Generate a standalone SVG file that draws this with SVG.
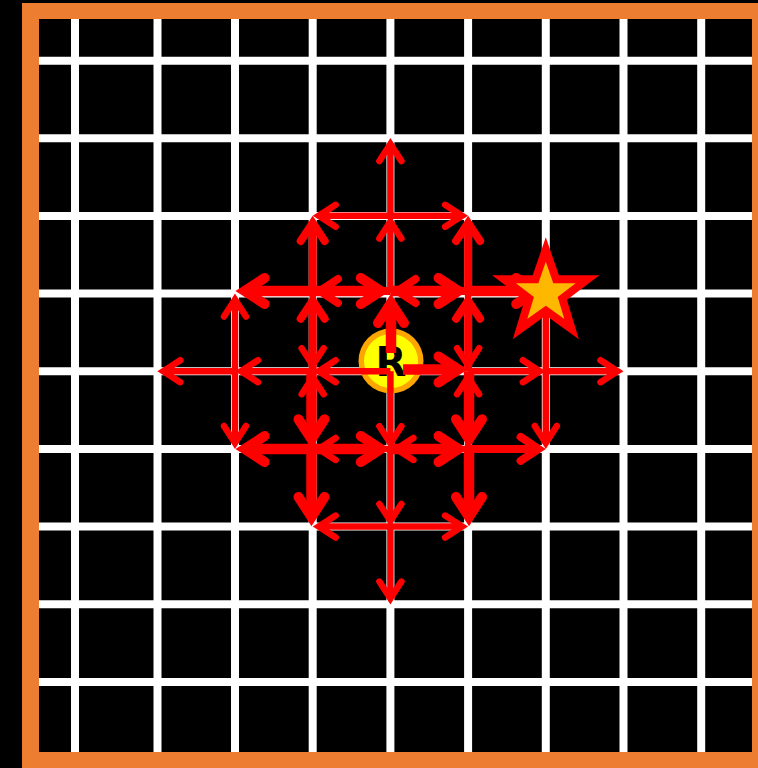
<svg xmlns="http://www.w3.org/2000/svg" width="758" height="768" viewBox="0 0 758 768">
<style>
.grid line{stroke:#fff;stroke-width:8}
.a{fill:none;stroke:#f00;stroke-linecap:butt}
.t{stroke-width:6.5;marker-end:url(#ht)}
.m{stroke-width:8;marker-end:url(#hm)}
.k{stroke-width:10.5;marker-end:url(#hk)}
</style>
<defs>
<marker id="ht" markerUnits="userSpaceOnUse" orient="auto" refX="0" refY="0" markerWidth="60" markerHeight="60" viewBox="-30 -30 60 60" overflow="visible"><path d="M-17-11L0 0L-17 11" fill="none" stroke="#f00" stroke-width="6.5" stroke-linecap="round" stroke-linejoin="miter"/></marker>
<marker id="hm" markerUnits="userSpaceOnUse" orient="auto" refX="0" refY="0" markerWidth="60" markerHeight="60" viewBox="-30 -30 60 60" overflow="visible"><path d="M-18-12L0 0L-18 12" fill="none" stroke="#f00" stroke-width="8" stroke-linecap="round" stroke-linejoin="miter"/></marker>
<marker id="hk" markerUnits="userSpaceOnUse" orient="auto" refX="0" refY="0" markerWidth="60" markerHeight="60" viewBox="-30 -30 60 60" overflow="visible"><path d="M-20-13L0 0L-20 13" fill="none" stroke="#f00" stroke-width="10" stroke-linecap="round" stroke-linejoin="miter"/></marker>
</defs>
<rect x="0" y="0" width="758" height="768" fill="#000"/>
<g class="grid">
<line x1="75" y1="0" x2="75" y2="768"/>
<line x1="157.5" y1="0" x2="157.5" y2="768"/>
<line x1="235" y1="0" x2="235" y2="768"/>
<line x1="312.7" y1="0" x2="312.7" y2="768"/>
<line x1="390.4" y1="0" x2="390.4" y2="768"/>
<line x1="468.1" y1="0" x2="468.1" y2="768"/>
<line x1="545.8" y1="0" x2="545.8" y2="768"/>
<line x1="623.5" y1="0" x2="623.5" y2="768"/>
<line x1="701.2" y1="0" x2="701.2" y2="768"/>
<line x1="0" y1="60.8" x2="758" y2="60.8"/>
<line x1="0" y1="138.3" x2="758" y2="138.3"/>
<line x1="0" y1="216" x2="758" y2="216"/>
<line x1="0" y1="293.5" x2="758" y2="293.5"/>
<line x1="0" y1="371.2" x2="758" y2="371.2"/>
<line x1="0" y1="448.9" x2="758" y2="448.9"/>
<line x1="0" y1="526.6" x2="758" y2="526.6"/>
<line x1="0" y1="604.3" x2="758" y2="604.3"/>
<line x1="0" y1="682" x2="758" y2="682"/>
</g>
<path d="M22 3H758V768H22ZM39 19V752H752V19Z" fill="#ED7D31" fill-rule="evenodd"/>
<path d="M0 0H22V768H0ZM22 0H758V3H22Z" fill="#000"/>
<g id="start">
<circle cx="391" cy="361" r="32.5" fill="#FFA500"/>
<circle cx="391" cy="361" r="27" fill="#FFFF00"/>
<text x="391" y="376" font-family="DejaVu Sans, sans-serif" font-weight="bold" font-size="40" text-anchor="middle" fill="#000">R</text>
</g>
<g id="connectors">
<path class="a t" d="M390.4 215.8L390.4 144"/>
<path class="a t" d="M390.4 293.5L390.4 221.5"/>
<path class="a k" d="M391 353L391 303"/>
<path class="a t" d="M390.4 371.2L390.4 443.2"/>
<path class="a t" d="M390.4 448.9L390.4 520.9"/>
<path class="a t" d="M390.4 526.6L390.4 598.6"/>
<path class="a t" d="M390.4 215.8L318.7 215.8"/>
<path class="a t" d="M390.4 215.8L462.1 215.8"/>
<path class="a m" d="M312.7 293.5L312.7 223"/>
<path class="a m" d="M312.7 371.2L312.7 300.7"/>
<path class="a t" d="M312.7 293.5L312.7 365.2"/>
<path class="a t" d="M312.7 448.9L312.7 377.2"/>
<path class="a k" d="M311.5 371.2L311.5 439.3"/>
<path class="a k" d="M311.5 448.9L311.5 517"/>
<path class="a m" d="M468.1 293.5L468.1 223"/>
<path class="a m" d="M468.1 371.2L468.1 300.7"/>
<path class="a t" d="M468.1 293.5L468.1 365.2"/>
<path class="a t" d="M468.1 448.9L468.1 377.2"/>
<path class="a k" d="M469 371.2L469 439.3"/>
<path class="a k" d="M469 448.9L469 517"/>
<path class="a k" d="M312.7 291L244.6 291"/>
<path class="a m" d="M390.4 291L319.9 291"/>
<path class="a k" d="M312.7 291L380.8 291"/>
<path class="a m" d="M468.1 291L397.6 291"/>
<path class="a k" d="M390.4 291L458.5 291"/>
<path class="a k" d="M468.1 291L536.2 291"/>
<path class="a t" d="M235 371.2L235 299.5"/>
<path class="a t" d="M235 371.2L235 442.9"/>
<path class="a t" d="M390.4 371.2L318.7 371.2"/>
<path class="a t" d="M312.7 371.2L241 371.2"/>
<path class="a t" d="M235 371.2L163.3 371.2"/>
<path class="a k" d="M403 369.5L458.5 369.5"/>
<path class="a t" d="M468.1 371.2L539.8 371.2"/>
<path class="a t" d="M545.8 371.2L617.5 371.2"/>
<path class="a t" d="M545.8 293.5L545.8 442.9"/>
<path class="a k" d="M312.7 449L244.6 449"/>
<path class="a t" d="M390.4 448.9L318.7 448.9"/>
<path class="a k" d="M312.7 449L380.8 449"/>
<path class="a t" d="M468.1 448.9L396.4 448.9"/>
<path class="a k" d="M390.4 449L458.5 449"/>
<path class="a m" d="M468.1 448.9L538.6 448.9"/>
<path class="a t" d="M390.4 526.6L318.7 526.6"/>
<path class="a t" d="M390.4 526.6L462.1 526.6"/>
</g>
<g id="goal">
<polygon points="545.8,249.5 556.1,279.3 587.6,279.3 562.3,298.4 571.6,329.1 545.8,310.6 520,329.1 529.3,298.4 504,279.3 535.5,279.3" fill="#FFB800" stroke="#f00" stroke-width="8" stroke-linejoin="miter"/>
</g>
</svg>
